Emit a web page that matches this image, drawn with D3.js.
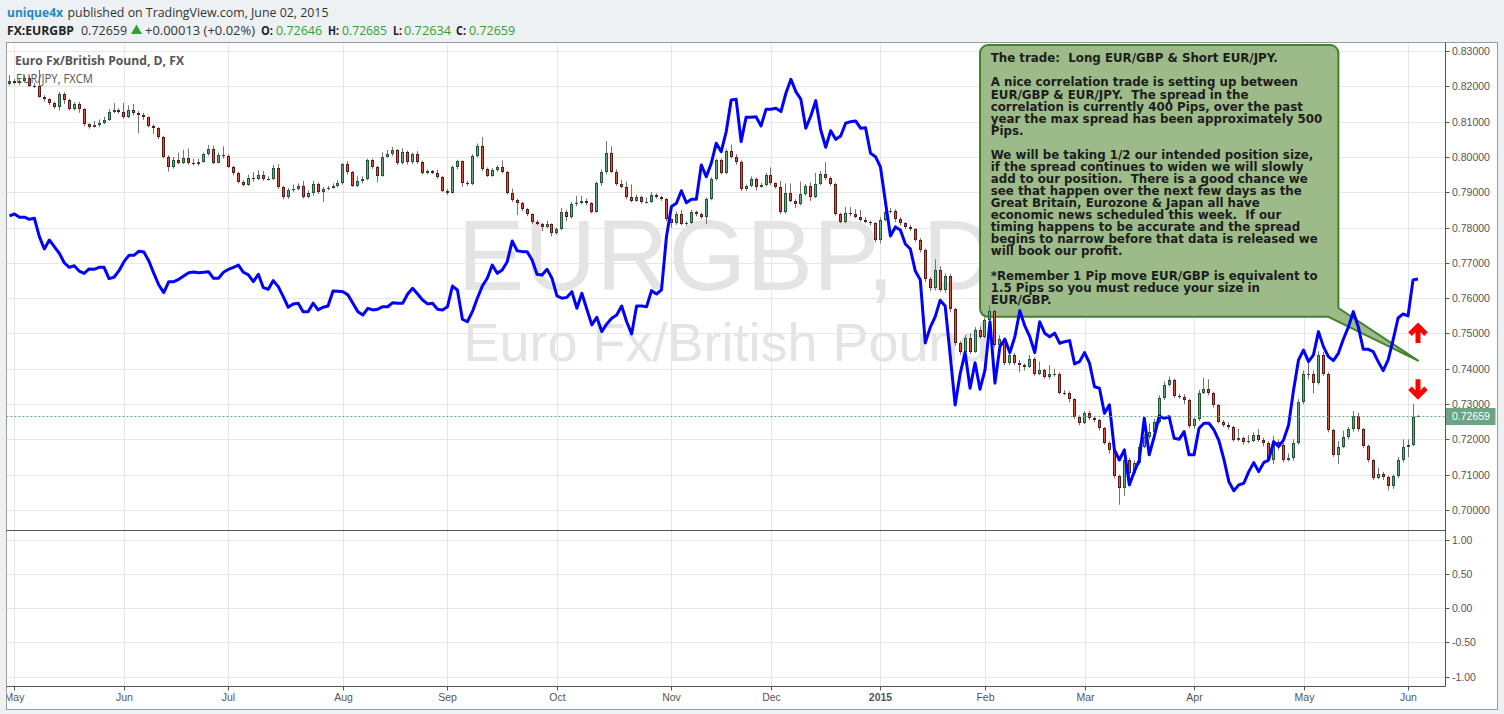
<!DOCTYPE html>
<html><head><meta charset="utf-8">
<script src="https://cdn.jsdelivr.net/npm/d3@7"></script>
<style>
html,body{margin:0;padding:0;background:#eef1f4;}
svg{display:block;}
text{white-space:pre;}
</style></head><body>
<svg id="c" width="1504" height="714"></svg>
<script>
// ---------------- DATA ----------------
const firstDay = "2014-04-30", lastDay = "2015-06-03";
const holidays = ["2014-12-25", "2015-01-01"];
const firstOpen = 0.8206;
const closes = [
0.8216,0.8209,0.8216,0.8224,0.8202,0.8200,0.8171,0.8163,0.8154,0.8142,
0.8178,0.8161,0.8135,0.8150,0.8135,0.8092,0.8086,0.8090,0.8097,0.8105,
0.8127,0.8133,0.8128,0.8114,0.8133,0.8124,0.8118,0.8112,0.8088,0.8081,
0.8057,0.8001,0.7972,0.7991,0.7982,0.7996,0.7982,0.7980,0.7986,0.8007,
0.8022,0.7984,0.8005,0.8002,0.7971,0.7954,0.7930,0.7920,0.7939,0.7938,
0.7948,0.7938,0.7937,0.7968,0.7914,0.7887,0.7906,0.7909,0.7918,0.7887,
0.7897,0.7923,0.7901,0.7910,0.7913,0.7918,0.7925,0.7980,0.7956,0.7918,
0.7933,0.7938,0.7991,0.7971,0.7947,0.8001,0.8007,0.8020,0.7982,0.8013,
0.7985,0.8007,0.7986,0.7954,0.7960,0.7955,0.7942,0.7904,0.7899,0.7971,
0.7988,0.7925,0.7924,0.8003,0.8031,0.7965,0.7947,0.7963,0.7971,0.7958,
0.7897,0.7878,0.7869,0.7852,0.7837,0.7816,0.7810,0.7802,0.7810,0.7785,
0.7795,0.7843,0.7829,0.7866,0.7870,0.7875,0.7869,0.7845,0.7925,0.7956,
0.8010,0.7958,0.7922,0.7916,0.7887,0.7876,0.7886,0.7871,0.7873,0.7892,
0.7886,0.7880,0.7823,0.7812,0.7838,0.7810,0.7814,0.7843,0.7838,0.7831,
0.7880,0.7937,0.7991,0.7955,0.8018,0.8001,0.7986,0.7908,0.7918,0.7938,
0.7916,0.7920,0.7949,0.7925,0.7916,0.7845,0.7897,0.7876,0.7867,0.7895,
0.7918,0.7886,0.7923,0.7952,0.7939,0.7923,0.7838,0.7816,0.7840,0.7838,
0.7831,0.7821,0.7816,0.7812,0.7765,0.7821,0.7845,0.7848,0.7823,0.7812,
0.7802,0.7795,0.7765,0.7736,0.7653,0.7628,0.7680,0.7623,0.7663,0.7568,
0.7472,0.7448,0.7486,0.7448,0.7510,0.7491,0.7538,0.7564,0.7467,0.7483,
0.7415,0.7439,0.7417,0.7410,0.7406,0.7429,0.7385,0.7396,0.7377,0.7385,
0.7386,0.7332,0.7330,0.7313,0.7264,0.7247,0.7274,0.7260,0.7255,0.7231,
0.7190,0.7170,0.7096,0.7061,0.7143,0.7104,0.7132,0.7179,0.7207,0.7222,
0.7250,0.7316,0.7354,0.7368,0.7323,0.7321,0.7311,0.7238,0.7257,0.7332,
0.7344,0.7331,0.7297,0.7250,0.7241,0.7234,0.7198,0.7203,0.7193,0.7196,
0.7212,0.7198,0.7190,0.7141,0.7193,0.7184,0.7141,0.7147,0.7190,0.7307,
0.7385,0.7386,0.7359,0.7439,0.7385,0.7226,0.7156,0.7179,0.7207,0.7228,
0.7266,0.7228,0.7181,0.7141,0.7092,0.7102,0.7094,0.7068,0.7096,0.7141,
0.7179,0.7184,0.72646,0.72659];
const highs = [
.8232,.8221,.8220,.8232,.8228,.8210,.8246,.8175,.8166,.8157,
.8184,.8183,.8165,.8155,.8156,.8138,.8095,.8102,.8106,.8114,
.8136,.8152,.8138,.8153,.8146,.8150,.8130,.8125,.8114,.8092,
.8084,.8060,.8005,.8000,.8012,.8020,.8024,.7995,.7995,.8012,
.8034,.8032,.8012,.8030,.8008,.7975,.7958,.7934,.7950,.7957,
.7962,.7960,.7945,.7977,.7980,.7918,.7912,.7922,.7925,.7932,
.7905,.7932,.7928,.7915,.7918,.7925,.7935,.7982,.7988,.7960,
.7945,.7945,.7995,.7995,.7975,.8013,.8020,.8028,.8022,.8025,
.8018,.8012,.8016,.7990,.7965,.7963,.7964,.7946,.7910,.7975,
.7992,.7990,.7932,.8008,.8038,.8056,.7970,.7968,.7976,.7990,
.7960,.7910,.7882,.7873,.7855,.7840,.7822,.7813,.7820,.7812,
.7800,.7855,.7850,.7873,.7890,.7890,.7882,.7872,.7930,.7965,
.8045,.8030,.7965,.7935,.7930,.7922,.7893,.7890,.7885,.7900,
.7897,.7890,.7883,.7826,.7845,.7850,.7818,.7850,.7848,.7842,
.7885,.7942,.7995,.7996,.8023,.8035,.8008,.7990,.7922,.7945,
.7942,.7926,.7955,.7970,.7928,.7932,.7925,.7925,.7880,.7930,
.7923,.7928,.7955,.7960,.7985,.7945,.7927,.7842,.7858,.7858,
.7852,.7850,.7830,.7820,.7815,.7830,.7852,.7855,.7852,.7830,
.7815,.7808,.7798,.7770,.7740,.7660,.7710,.7690,.7670,.7668,
.7572,.7478,.7495,.7500,.7518,.7520,.7545,.7580,.7568,.7495,
.7488,.7455,.7445,.7425,.7415,.7440,.7433,.7420,.7400,.7410,
.7400,.7390,.7340,.7336,.7316,.7268,.7280,.7280,.7265,.7258,
.7235,.7195,.7175,.7100,.7150,.7148,.7140,.7188,.7215,.7245,
.7258,.7325,.7365,.7378,.7372,.7330,.7328,.7315,.7262,.7340,
.7375,.7370,.7335,.7300,.7255,.7248,.7238,.7230,.7208,.7212,
.7220,.7230,.7205,.7195,.7210,.7200,.7190,.7160,.7200,.7315,
.7395,.7420,.7395,.7450,.7448,.7390,.7230,.7195,.7225,.7235,
.7280,.7275,.7232,.7185,.7145,.7120,.7108,.7098,.7100,.7150,
.7200,.7200,.7300,.72685];
const lows = [
.8203,.8205,.8204,.8214,.8198,.8195,.8168,.8157,.8147,.8136,
.8131,.8150,.8131,.8131,.8125,.8087,.8080,.8083,.8084,.8093,
.8102,.8124,.8122,.8108,.8110,.8117,.8067,.8105,.8084,.8065,
.8050,.7996,.7958,.7967,.7979,.7980,.7978,.7976,.7975,.7984,
.8004,.7980,.7982,.7995,.7968,.7948,.7925,.7916,.7918,.7930,
.7935,.7932,.7933,.7935,.7910,.7880,.7881,.7900,.7905,.7882,
.7883,.7890,.7895,.7873,.7905,.7910,.7914,.7922,.7950,.7915,
.7915,.7925,.7934,.7966,.7928,.7944,.7998,.8003,.7977,.7978,
.7978,.7980,.7980,.7950,.7951,.7951,.7938,.7900,.7893,.7896,
.7965,.7915,.7918,.7920,.7998,.7960,.7943,.7944,.7958,.7954,
.7893,.7872,.7835,.7846,.7832,.7810,.7806,.7790,.7798,.7775,
.7780,.7792,.7818,.7825,.7860,.7866,.7864,.7840,.7842,.7918,
.7952,.7955,.7918,.7912,.7880,.7872,.7873,.7867,.7868,.7870,
.7882,.7876,.7818,.7800,.7808,.7806,.7805,.7810,.7832,.7825,
.7810,.7877,.7933,.7950,.7952,.7996,.7978,.7903,.7904,.7914,
.7905,.7913,.7917,.7920,.7910,.7838,.7840,.7872,.7855,.7863,
.7890,.7875,.7883,.7920,.7935,.7918,.7834,.7812,.7812,.7832,
.7827,.7817,.7812,.7805,.7758,.7755,.7818,.7840,.7815,.7805,
.7796,.7790,.7760,.7730,.7645,.7620,.7622,.7618,.7615,.7560,
.7465,.7440,.7440,.7442,.7445,.7485,.7486,.7534,.7460,.7460,
.7410,.7410,.7410,.7390,.7395,.7402,.7380,.7382,.7372,.7370,
.7378,.7328,.7325,.7305,.7258,.7240,.7243,.7255,.7248,.7225,
.7185,.7160,.7090,.7015,.7040,.7090,.7100,.7128,.7175,.7200,
.7215,.7245,.7312,.7350,.7318,.7315,.7300,.7232,.7230,.7252,
.7328,.7325,.7290,.7245,.7235,.7228,.7193,.7195,.7185,.7188,
.7192,.7193,.7180,.7135,.7130,.7170,.7135,.7138,.7140,.7185,
.7300,.7370,.7330,.7355,.7380,.7220,.7150,.7130,.7175,.7200,
.7222,.7222,.7175,.7135,.7085,.7088,.7085,.7055,.7060,.7090,
.7135,.7150,.7180,.72634];
const eurjpy = [
142.06,142.17,141.99,141.99,141.87,141.93,140.89,140.19,140.70,140.32,
139.95,139.41,139.15,139.24,138.94,138.81,139.06,139.04,139.15,139.15,
138.51,138.59,138.96,139.47,139.83,139.83,140.06,140.02,139.51,138.81,
138.15,137.72,138.34,138.34,138.47,138.66,138.85,138.89,138.85,138.87,
138.90,138.53,138.53,138.87,139.04,139.15,139.28,138.87,138.72,138.34,
138.76,138.00,137.91,138.40,138.06,137.49,136.89,137.08,137.12,136.64,
136.64,137.12,136.74,136.89,136.96,137.81,137.80,137.77,137.59,137.12,
136.64,136.45,136.83,136.74,136.78,136.92,136.92,137.15,137.12,137.12,
137.64,137.96,137.64,137.30,137.08,137.12,136.78,136.74,136.92,138.09,
137.87,136.21,136.07,136.64,137.40,138.09,138.53,139.28,138.81,139.00,
139.47,140.64,140.09,140.04,140.04,139.57,138.76,138.72,139.04,138.53,
137.53,137.40,137.45,137.77,136.83,137.68,136.78,135.89,136.32,135.51,
135.94,136.27,136.45,136.96,136.07,135.38,136.96,136.96,136.92,137.83,
137.64,137.87,140.89,142.59,142.78,143.49,142.81,143.00,143.00,144.95,
144.28,145.04,146.18,145.70,146.83,148.63,148.67,146.27,147.65,147.65,
147.68,147.16,148.10,148.10,148.16,147.97,149.01,149.80,149.10,148.67,
147.03,147.72,148.59,146.93,145.95,146.89,146.40,146.59,147.31,147.40,
147.44,147.03,147.06,145.61,145.42,144.82,142.85,140.93,141.44,141.27,
140.47,140.19,138.94,138.44,134.87,135.75,136.36,137.29,136.96,134.19,
131.36,133.11,134.32,132.30,133.75,132.25,133.34,136.07,132.59,134.66,
135.08,134.32,135.22,136.70,135.83,135.22,134.32,136.07,135.42,135.22,
135.42,134.85,134.94,135.00,133.68,133.81,134.32,133.72,132.39,132.30,
130.89,131.36,128.81,128.24,128.81,126.83,127.58,128.24,130.60,128.53,
129.56,130.73,130.60,130.69,129.47,129.41,129.85,128.53,128.53,130.04,
130.32,130.32,129.94,129.34,128.28,127.01,126.50,126.83,126.92,127.58,
128.09,127.58,128.09,128.24,129.28,129.00,129.38,130.22,132.21,133.91,
134.47,133.81,134.19,135.51,134.66,134.09,133.87,134.28,135.08,135.76,
136.64,135.79,134.51,134.51,134.38,133.81,133.30,133.91,135.04,136.28,
136.51,136.40,138.44,138.49];
const priceTicks = [0.83,0.82,0.81,0.80,0.79,0.78,0.77,0.76,0.75,0.74,0.73,0.72,0.71,0.70];
const lowerTicks = [1.00,0.50,0.00,-0.50,-1.00];
const lastPrice = 0.72659;
const noteLines = [
"The trade:  Long EUR/GBP & Short EUR/JPY.","",
"A nice correlation trade is setting up between",
"EUR/GBP & EUR/JPY.  The spread in the",
"correlation is currently 400 Pips, over the past",
"year the max spread has been approximately 500",
"Pips.","",
"We will be taking 1/2 our intended position size,",
"if the spread continues to widen we will slowly",
"add to our position.  There is a good chance we",
"see that happen over the next few days as the",
"Great Britain, Eurozone & Japan all have",
"economic news scheduled this week.  If our",
"timing happens to be accurate and the spread",
"begins to narrow before that data is released we",
"will book our profit.","",
"*Remember 1 Pip move EUR/GBP is equivalent to",
"1.5 Pips so you must reduce your size in",
"EUR/GBP."];
// annotation anchors in data space (bar index, price)
const noteBox = {i0:195, i1:267, pTop:0.8317, pBot:0.7547};
const noteTail = {iEdge:267, pEdge:0.7572, iTip:283, pTip:0.7423, iBase:265};
const upArrow = {i:283, p:0.7501}, downArrow = {i:283, p:0.7342};

// ---------------- LAYOUT ----------------
const L=6.5, R=1497.5, T=42.5, B=709.5, AX=1445.5, SPLIT=530.5, TAX=686.5;
const svg=d3.select("#c");
svg.append("rect").attr("x",L).attr("y",T).attr("width",R-L).attr("height",B-T).attr("fill","#fff");

// dates (weekdays excluding holidays)
const dates=[];
for(let d=new Date(firstDay+"T00:00:00Z"); d<=new Date(lastDay+"T00:00:00Z"); d.setUTCDate(d.getUTCDate()+1)){
  const wd=d.getUTCDay(), iso=d.toISOString().slice(0,10);
  if(wd===0||wd===6||holidays.includes(iso)) continue;
  dates.push(new Date(d));
}
const n=closes.length;
const opens=closes.map((c,i)=>i===0?firstOpen:closes[i-1]);

const x=d3.scaleLinear().domain([0,n-1]).range([9.5,1418]);
const y=d3.scaleLinear().domain([0.70,0.83]).range([510,51]);
const yJ=d3.scaleLinear().domain(d3.extent(eurjpy)).range([490.7,79.3]);
const yL=d3.scaleLinear().domain([-1,1]).range([676.7,539.5]);

const defs=svg.append("defs");
defs.append("clipPath").attr("id","mainClip").append("rect").attr("x",L+0.5).attr("y",T+0.5).attr("width",AX-L-1).attr("height",SPLIT-T-1);
defs.append("clipPath").attr("id","allClip").append("rect").attr("x",L+0.5).attr("y",T+0.5).attr("width",AX-L-1).attr("height",TAX-T-1);
defs.append("clipPath").attr("id","axClip").append("rect").attr("x",L+0.5).attr("y",TAX).attr("width",R-L-1).attr("height",B-TAX-0.5);

// month ticks
const monthTicks=[];
for(let i=1;i<dates.length&&i<n;i++){
  if(dates[i].getUTCMonth()!==dates[i-1].getUTCMonth()){
    const m=dates[i].getUTCMonth();
    monthTicks.push({i, label: m===0? String(dates[i].getUTCFullYear()) : d3.utcFormat("%b")(dates[i]), year:m===0});
  }
}
const grid=svg.append("g").attr("clip-path","url(#allClip)").attr("stroke","#e6e6e6").attr("stroke-width",1);
monthTicks.forEach(t=>{const xx=Math.round(x(t.i))+0.5; grid.append("line").attr("x1",xx).attr("x2",xx).attr("y1",T).attr("y2",TAX);});
priceTicks.forEach(p=>{const yy=Math.round(y(p))+0.5; grid.append("line").attr("x1",L).attr("x2",AX).attr("y1",yy).attr("y2",yy);});
lowerTicks.forEach(p=>{const yy=Math.round(yL(p))+0.5; grid.append("line").attr("x1",L).attr("x2",AX).attr("y1",yy).attr("y2",yy);});

// watermark
const wm=svg.append("g").attr("clip-path","url(#mainClip)").attr("fill","#e4e4e4").attr("font-family","Liberation Sans, Arial, sans-serif").attr("text-anchor","middle");
wm.append("text").attr("x",(L+AX)/2).attr("y",290).attr("font-size",100).text("EURGBP, D");
wm.append("text").attr("x",(L+AX)/2).attr("y",361).attr("font-size",54).text("Euro Fx/British Pound");

// annotation box (under series)
const bx0=x(noteBox.i0), bx1=x(noteBox.i1), by0=y(noteBox.pTop), by1=y(noteBox.pBot);
const rr=8;
const ann=svg.append("g").attr("clip-path","url(#mainClip)");
const tailEdgeY=y(noteTail.pEdge), tipX=x(noteTail.iTip), tipY=y(noteTail.pTip), baseX=x(noteTail.iBase);
const boxPath=d3.path();
boxPath.moveTo(bx0+rr,by0); boxPath.lineTo(bx1-rr,by0); boxPath.arcTo(bx1,by0,bx1,by0+rr,rr);
boxPath.lineTo(bx1,tailEdgeY); boxPath.lineTo(tipX,tipY); boxPath.lineTo(baseX,by1);
boxPath.lineTo(bx0+rr,by1); boxPath.arcTo(bx0,by1,bx0,by1-rr,rr); boxPath.lineTo(bx0,by0+rr); boxPath.arcTo(bx0,by0,bx0+rr,by0,rr); boxPath.closePath();
ann.append("path").attr("d",boxPath.toString()).attr("fill","#9cbb89").attr("stroke","#42822a").attr("stroke-width",2).attr("stroke-linejoin","round");
const ng=ann.append("g").attr("font-family","DejaVu Sans, Verdana, sans-serif").attr("font-weight","bold").attr("font-size",12.5).attr("fill","#1c1c1c");
const probe=ng.append("text").text(noteLines[5]);
const sx=332/probe.node().getComputedTextLength(); probe.remove();
noteLines.forEach((s,k)=>{ if(!s) return;
  ng.append("text").attr("transform",`translate(${bx0+10.7},${by0+17.3+k*12.07}) scale(${sx},1)`).text(s);
});

// candles
const cg=svg.append("g").attr("clip-path","url(#mainClip)");
closes.forEach((c,i)=>{
  const o=opens[i], up=c>=o, r=Math.floor(x(i));
  cg.append("line").attr("x1",r+0.5).attr("x2",r+0.5).attr("y1",y(highs[i])).attr("y2",y(lows[i])).attr("stroke","#737375").attr("stroke-width",1);
  const yt=Math.round(y(Math.max(o,c))), yb=Math.round(y(Math.min(o,c)));
  const h=Math.max(1,yb-yt);
  cg.append("rect").attr("x",r-1).attr("y",yt).attr("width",3).attr("height",h).attr("fill",up?"#225437":"#5b1a13");
  if(h>2) cg.append("rect").attr("x",r).attr("y",yt+1).attr("width",1).attr("height",h-2).attr("fill",up?"#6ba583":"#d75442");
});

// EUR/JPY overlay
svg.append("path").attr("clip-path","url(#mainClip)").datum(eurjpy)
  .attr("d",d3.line().x((v,i)=>x(i)).y(v=>yJ(v)))
  .attr("fill","none").attr("stroke","#0000ff").attr("stroke-width",3).attr("stroke-linejoin","round");

// last price line
const lpY=Math.round(y(lastPrice))+0.5;
svg.append("line").attr("x1",L).attr("x2",AX).attr("y1",lpY).attr("y2",lpY).attr("stroke","#6ba583").attr("stroke-width",1).attr("stroke-dasharray","2,2");

// arrows
function arrow(a,dir){
  const ax=x(a.i), ay=y(a.p), g=svg.append("g").attr("stroke","#ff0000").attr("stroke-width",5).attr("fill","none");
  if(dir>0){
    g.append("path").attr("d",`M${ax-8},${ay+1}L${ax},${ay-7}L${ax+8},${ay+1}`).attr("stroke-linejoin","miter");
    g.append("line").attr("x1",ax).attr("x2",ax).attr("y1",ay-6).attr("y2",ay+10);
  } else {
    g.append("path").attr("d",`M${ax-8},${ay-1}L${ax},${ay+7}L${ax+8},${ay-1}`).attr("stroke-linejoin","miter");
    g.append("line").attr("x1",ax).attr("x2",ax).attr("y1",ay-10).attr("y2",ay+6);
  }
}
arrow(upArrow,1); arrow(downArrow,-1);

// pane titles
const tg=svg.append("g").attr("font-family","Open Sans, Liberation Sans, sans-serif").attr("fill","#555");
tg.append("text").attr("x",15).attr("y",65).attr("font-size",13).attr("font-weight","bold").attr("textLength",169).attr("lengthAdjust","spacingAndGlyphs").text("Euro Fx/British Pound, D, FX");
tg.append("text").attr("x",16).attr("y",82.5).attr("font-size",13).attr("textLength",77).attr("lengthAdjust","spacingAndGlyphs").text("EUR/JPY, FXCM");

// frame lines
const fr=svg.append("g").attr("stroke","#555").attr("stroke-width",1).attr("fill","none");
fr.append("rect").attr("x",L).attr("y",T).attr("width",R-L).attr("height",B-T).attr("stroke","#9a9a9a");
fr.append("line").attr("x1",AX).attr("x2",AX).attr("y1",T).attr("y2",TAX);
fr.append("line").attr("x1",L).attr("x2",AX).attr("y1",SPLIT).attr("y2",SPLIT);
fr.append("line").attr("x1",L).attr("x2",AX).attr("y1",TAX).attr("y2",TAX);

// price axis
const pa=svg.append("g").attr("font-family","Liberation Sans, Arial, sans-serif").attr("font-size",10.5).attr("fill","#555");
priceTicks.forEach(p=>{const yy=Math.round(y(p))+0.5;
  pa.append("line").attr("x1",AX).attr("x2",AX+4).attr("y1",yy).attr("y2",yy).attr("stroke","#555");
  pa.append("text").attr("x",AX+6.5).attr("y",yy+3.8).text(p.toFixed(5));});
lowerTicks.forEach(p=>{const yy=Math.round(yL(p))+0.5;
  pa.append("line").attr("x1",AX).attr("x2",AX+4).attr("y1",yy).attr("y2",yy).attr("stroke","#555");
  pa.append("text").attr("x",AX+6.5).attr("y",yy+3.8).text(p.toFixed(2));});
pa.append("rect").attr("x",AX+0.5).attr("y",lpY-8.5).attr("width",49.5).attr("height",17).attr("fill","#6ba583");
pa.append("text").attr("x",AX+6.5).attr("y",lpY+3.8).attr("fill","#fff").text(lastPrice.toFixed(5));

// time axis
const ta=svg.append("g").attr("clip-path","url(#axClip)").attr("font-family","Liberation Sans, Arial, sans-serif").attr("font-size",10.5).attr("fill","#555").attr("text-anchor","middle");
monthTicks.forEach(t=>{const xx=Math.round(x(t.i))+0.5;
  ta.append("line").attr("x1",xx).attr("x2",xx).attr("y1",TAX).attr("y2",TAX+4).attr("stroke","#555");
  ta.append("text").attr("x",xx).attr("y",TAX+14).attr("font-weight",t.year?"bold":"normal").text(t.label);});

// header
const hd=svg.append("g").attr("font-family","Open Sans, Liberation Sans, sans-serif").attr("font-size",13);
hd.append("text").attr("x",7).attr("y",16.5).attr("fill","#1f88c7").attr("font-weight","bold").attr("textLength",56).attr("lengthAdjust","spacingAndGlyphs").text("unique4x");
hd.append("text").attr("x",67.5).attr("y",16.5).attr("fill","#333").attr("textLength",261).attr("lengthAdjust","spacingAndGlyphs").text("published on TradingView.com, June 02, 2015");
const pieces=[
 {t:"FX:EURGBP",x:7,w:67,b:true,c:"#222"},
 {t:"0.72659",x:81,w:46,c:"#333"},
 {t:"+0.00013 (+0.02%)",x:145,w:110,c:"#333"},
 {t:"O:",x:261,w:12,b:true,c:"#222"},{t:"0.72646",x:276,w:46,c:"#2ea12e"},
 {t:"H:",x:328,w:11,b:true,c:"#222"},{t:"0.72685",x:342,w:45,c:"#2ea12e"},
 {t:"L:",x:393,w:9,b:true,c:"#222"},{t:"0.72634",x:404,w:47,c:"#2ea12e"},
 {t:"C:",x:456,w:10,b:true,c:"#222"},{t:"0.72659",x:469,w:46,c:"#2ea12e"}];
pieces.forEach(p=>hd.append("text").attr("x",p.x).attr("y",34.5).attr("fill",p.c).attr("font-weight",p.b?"bold":"normal").attr("textLength",p.w).attr("lengthAdjust","spacingAndGlyphs").text(p.t));
hd.append("path").attr("d","M131,34L136.5,24.5L142,34Z").attr("fill","#2ea12e");
</script>
</body></html>
